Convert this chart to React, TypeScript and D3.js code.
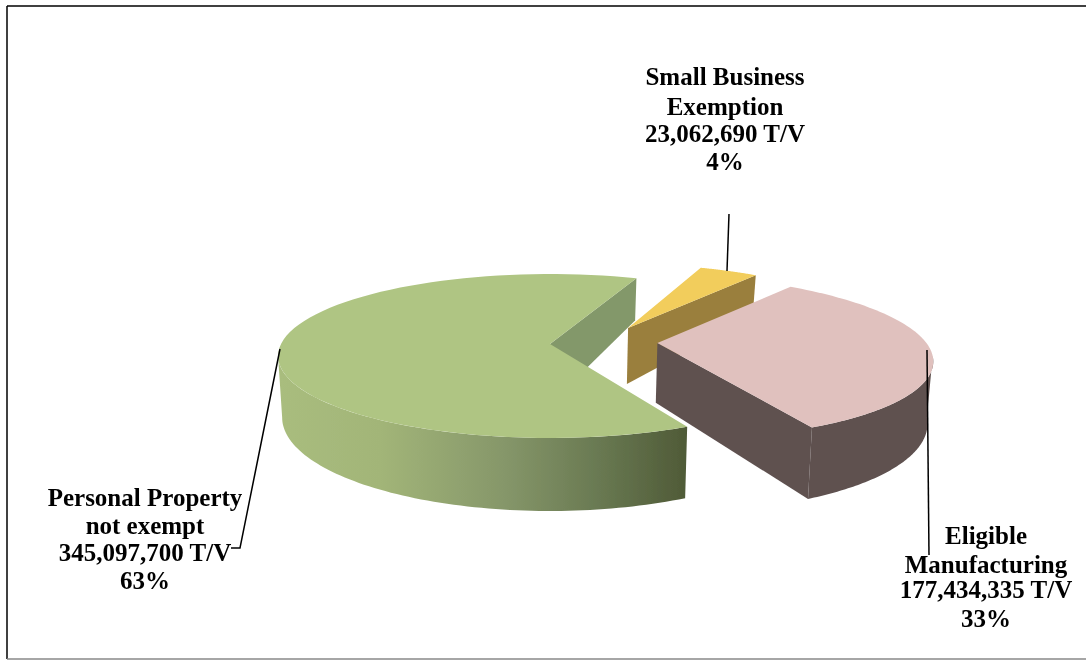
import React from "react";
import * as d3 from "d3";

const categories = ["Personal Property not exempt", "Small Business Exemption", "Eligible Manufacturing"];
const values = [345097700, 23062690, 177434335];
const labelLines = [
  ["Personal Property", "not exempt", "345,097,700 T/V", "63%"],
  ["Small Business", "Exemption", "23,062,690 T/V", "4%"],
  ["Eligible", "Manufacturing", "177,434,335 T/V", "33%"],
];
const topColors = ["#afc583", "#f2cd5b", "#e0c1be"];
const wallColors = ["#83986a", "#9a7f3c", "#5f5150"];

// layout
const W = 1086, H = 660;
const X0 = 550, Y0 = 344, RX = 269, RY = 80.2, K = 0.1464;
const START = (153.7 * Math.PI) / 180;
const offsets = [[0, 0], [0.299, -0.206], [0.4, -0.0125]];
const rimShift = [[0, 0], [0, 0], [0.002, 0.019]];
const radii = [1, 0.965, 1];
const labelX = [145, 725, 986];
const labelY = [[506, 534, 561, 589], [85, 115, 142, 170], [544, 573, 598, 627]];
const leaders = [
  [[280, 349], [240, 548], [231, 548]],
  [[729, 214], [727, 271]],
  [[927, 350], [929, 555]],
];

type Pt = [number, number];
const top3 = (u: number, v: number): Pt => {
  const w = 1 - K * v;
  return [X0 + (RX * u) / w, Y0 + (RY * v) / w];
};
const depth = (v: number) => 60 + (v > 0 ? 10 * v + 3 * v * v : 19 * v);
const bot3 = (u: number, v: number): Pt => {
  const [x, y] = top3(u, v);
  return [X0 + (x - X0) * 0.985, y + depth(v)];
};
const line = d3.line<Pt>();

const pie = d3.pie<number>().sort(null).startAngle(START).endAngle(START + 2 * Math.PI);
const arcs = pie(values);

const rimPoint = (i: number, a: number): Pt => [
  offsets[i][0] + rimShift[i][0] + radii[i] * Math.sin(a),
  offsets[i][1] + rimShift[i][1] - radii[i] * Math.cos(a),
];
function rim(i: number, a0: number, a1: number, n = 80) {
  return d3.range(n + 1).map((k) => rimPoint(i, a0 + ((a1 - a0) * k) / n));
}
const topPath = (i: number) => {
  const a = arcs[i];
  const pts = rim(i, a.startAngle, a.endAngle).map((p) => top3(p[0], p[1]));
  const c = top3(offsets[i][0], offsets[i][1]);
  return line([c, ...pts]) + "Z";
};
const outerPath = (i: number, a0: number, a1: number) => {
  const pts = rim(i, a0, a1);
  return line([...pts.map((p) => top3(p[0], p[1])), ...pts.slice().reverse().map((p) => bot3(p[0], p[1]))]) + "Z";
};
const facePath = (i: number, a: number) => {
  const [du, dv] = offsets[i];
  const p = rimPoint(i, a);
  return line([top3(du, dv), top3(p[0], p[1]), bot3(p[0], p[1]), bot3(du, dv)]) + "Z";
};

const deg = Math.PI / 180;
const leftExtreme = 261.6 * deg;
const rightExtreme = (360 + 98) * deg;

export default function App() {
  const [g, s, e] = arcs;
  return (
    <svg width={W} height={H} style={{ position: "absolute", left: 0, top: 0, background: "#fff" }}>
      <defs>
        <linearGradient id="gw" gradientUnits="userSpaceOnUse" x1={278} x2={687} y1={0} y2={0}>
          <stop offset="0" stopColor="#a9bd7e" />
          <stop offset="0.25" stopColor="#a2b578" />
          <stop offset="0.55" stopColor="#86976a" />
          <stop offset="0.8" stopColor="#677750" />
          <stop offset="1" stopColor="#4f5a37" />
        </linearGradient>
        <filter id="soft" x="-5%" y="-5%" width="110%" height="110%">
          <feGaussianBlur stdDeviation="0.5" />
        </filter>
        <filter id="softText" x="-5%" y="-5%" width="110%" height="110%">
          <feGaussianBlur stdDeviation="0.3" />
        </filter>
      </defs>
      <line x1={7} y1={6} x2={W} y2={6} stroke="#000" strokeWidth={1.5} />
      <line x1={7} y1={6} x2={7} y2={659} stroke="#000" strokeWidth={1.5} />
      <line x1={7} y1={659} x2={W} y2={659} stroke="#888" strokeWidth={1.5} />
      <g filter="url(#soft)">
        <path d={facePath(0, g.endAngle)} fill={wallColors[0]} />
        <path d={outerPath(0, g.startAngle, leftExtreme)} fill="url(#gw)" />
        <path d={topPath(0)} fill={topColors[0]} />
        <path d={facePath(1, s.endAngle)} fill={wallColors[1]} />
        <path d={topPath(1)} fill={topColors[1]} />
        <path d={facePath(2, e.endAngle)} fill={wallColors[2]} />
        <path d={outerPath(2, rightExtreme, e.endAngle)} fill={wallColors[2]} />
        <path d={topPath(2)} fill={topColors[2]} />
      </g>
      {leaders.map((l, i) => (
        <path key={categories[i]} d={line(l as Pt[]) as string} fill="none" stroke="#000" strokeWidth={1.5} />
      ))}
      <g filter="url(#softText)">
        {labelLines.map((lines, i) =>
          lines.map((t, j) => (
            <text key={t} x={labelX[i]} y={labelY[i][j]} textAnchor="middle"
              fontFamily="'Liberation Serif', serif" fontWeight={700} fontSize={25} fill="#000">
              {t}
            </text>
          ))
        )}
      </g>
    </svg>
  );
}
